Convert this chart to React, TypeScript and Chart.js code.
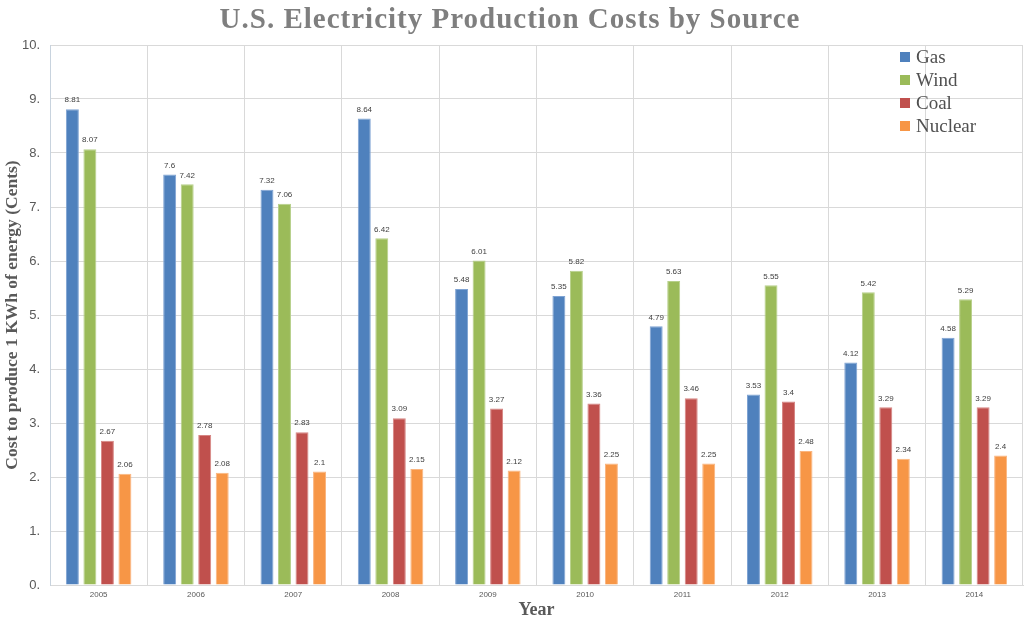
import React, { useEffect, useRef } from "react";
import { Chart, registerables } from "chart.js";

Chart.register(...registerables);

const years = ["2005", "2006", "2007", "2008", "2009", "2010", "2011", "2012", "2013", "2014"];
const gas = [8.81, 7.6, 7.32, 8.64, 5.48, 5.35, 4.79, 3.53, 4.12, 4.58];
const wind = [8.07, 7.42, 7.06, 6.42, 6.01, 5.82, 5.63, 5.55, 5.42, 5.29];
const coal = [2.67, 2.78, 2.83, 3.09, 3.27, 3.36, 3.46, 3.4, 3.29, 3.29];
const nuclear = [2.06, 2.08, 2.1, 2.15, 2.12, 2.25, 2.25, 2.48, 2.34, 2.4];

const seriesNames = ["Gas", "Wind", "Coal", "Nuclear"];
const seriesColors = ["#4f81bd", "#9bbb59", "#c0504d", "#f79646"];
const seriesBorders = ["#7fa3d3", "#b7d08a", "#d68583", "#fab57f"];

const titleText = "U.S. Electricity Production Costs by Source";
const yTitle = "Cost to produce 1 KWh of energy (Cents)";
const xTitle = "Year";

const SERIF = "'Liberation Serif', 'DejaVu Serif', serif";
const SANS = "'Liberation Sans', 'DejaVu Sans', sans-serif";

const overlayPlugin = {
  id: "overlay",
  afterDatasetsDraw(chart: any) {
    const ctx = chart.ctx;
    ctx.save();
    // data labels
    ctx.font = `8px ${SANS}`;
    ctx.fillStyle = "#404040";
    ctx.textAlign = "center";
    ctx.textBaseline = "bottom";
    chart.data.datasets.forEach((ds: any, i: number) => {
      const meta = chart.getDatasetMeta(i);
      meta.data.forEach((bar: any, j: number) => {
        ctx.fillText(String(ds.data[j]), bar.x, bar.y - 5);
      });
    });
    // title
    ctx.font = `bold 29px ${SERIF}`;
    ctx.fillStyle = "#7f7f7f";
    ctx.textBaseline = "middle";
    ctx.textAlign = "center";
    try {
      (ctx as any).letterSpacing = "1px";
    } catch (e) {}
    ctx.fillText(titleText, 510, 21);
    try {
      (ctx as any).letterSpacing = "0px";
    } catch (e) {}
    // legend
    ctx.textAlign = "left";
    ctx.font = `19px ${SERIF}`;
    chart.data.datasets.forEach((ds: any, i: number) => {
      const y = 57 + i * 23;
      ctx.fillStyle = ds.backgroundColor;
      ctx.fillRect(900, y - 5, 10, 10);
      ctx.fillStyle = "#505050";
      ctx.fillText(ds.label, 916, y + 1);
    });
    ctx.restore();
  },
};

export default function App() {
  const ref = useRef<HTMLCanvasElement>(null);
  useEffect(() => {
    document.body.style.margin = "0";
    const seriesData = [gas, wind, coal, nuclear];
    const chart = new Chart(ref.current!, {
      type: "bar",
      data: {
        labels: years,
        datasets: seriesNames.map((name, i) => ({
          label: name,
          data: seriesData[i],
          backgroundColor: seriesColors[i],
          borderColor: seriesBorders[i],
          borderWidth: 1,
          categoryPercentage: 0.72,
          barPercentage: 0.74,
        })),
      },
      options: {
        responsive: false,
        animation: false,
        layout: { padding: { top: 45, right: 1, left: 0, bottom: 0 } },
        plugins: {
          legend: { display: false },
          title: { display: false },
          tooltip: { enabled: false },
        },
        scales: {
          x: {
            afterFit: (s: any) => {
              s.height = 54;
            },
            grid: { color: "#d9d9d9", drawTicks: false, offset: true },
            border: { color: "#d9d9d9" },
            ticks: { font: { family: SANS, size: 8 }, color: "#595959", padding: 5, maxRotation: 0 },
            title: {
              display: true,
              text: xTitle,
              font: { family: SERIF, size: 18, weight: "bold" },
              color: "#595959",
              padding: { top: 0, bottom: 18 },
            },
          },
          y: {
            min: 0,
            max: 10,
            afterFit: (s: any) => {
              s.width = 50;
            },
            grid: { color: "#d9d9d9", drawTicks: false },
            border: { color: "#c8d3de" },
            ticks: {
              stepSize: 1,
              font: { family: SANS, size: 13 },
              color: "#595959",
              padding: 10,
              callback: (v: any) => v + ".",
            },
            title: {
              display: true,
              text: yTitle,
              font: { family: SERIF, size: 17.5, weight: "bold" },
              color: "#595959",
              padding: { top: 2, bottom: 0 },
            },
          },
        },
      },
      plugins: [overlayPlugin],
    });
    return () => chart.destroy();
  }, []);
  return (
    <div style={{ width: 1024, height: 639, background: "#fff" }}>
      <canvas ref={ref} width={1024} height={639} style={{ display: "block" }} />
    </div>
  );
}
